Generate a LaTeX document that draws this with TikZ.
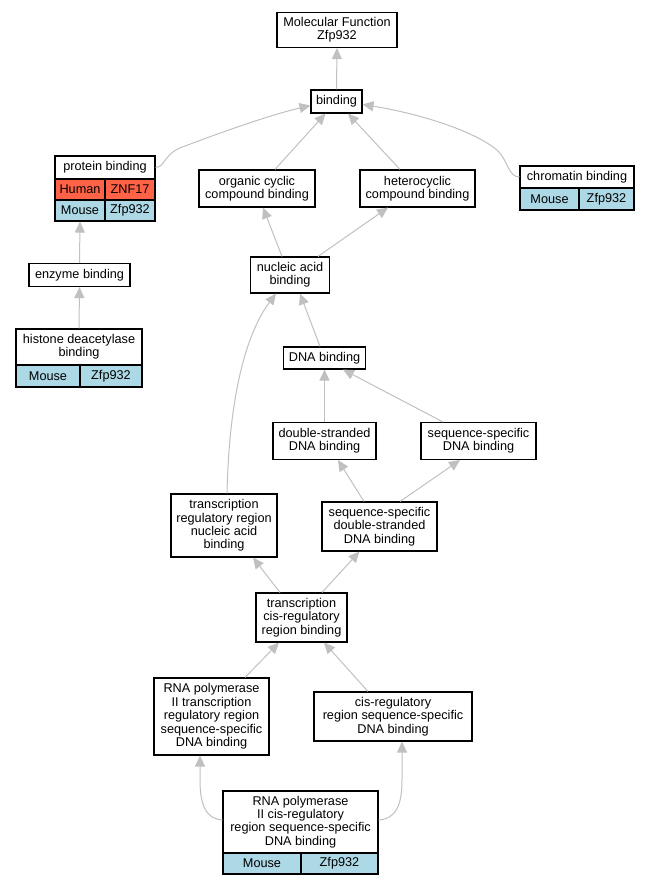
\documentclass[tikz,border=0pt]{standalone}
\usepackage{fontspec}
\setmainfont{Liberation Sans}
\usetikzlibrary{arrows.meta}
\definecolor{edgegray}{RGB}{192,192,192}
\definecolor{humanred}{RGB}{255,99,71}
\definecolor{mouseblue}{RGB}{173,216,230}
\tikzset{
  box/.style={draw=black, line width=1.1pt, fill=white, align=center, inner sep=0pt,
    font=\fontsize{12.7pt}{13.4pt}\selectfont},
  hcell/.style={box, fill=humanred},
  mcell/.style={box, fill=mouseblue},
  edge/.style={draw=edgegray, line width=1pt, -{Triangle[length=11pt,width=10pt]}},
}
\begin{document}
\begin{tikzpicture}[x=1pt,y=-1pt]
\useasboundingbox (0,0) rectangle (649,885);
% nodes
\node[box, minimum width=120pt, minimum height=35pt] (mf) at (337,30) {Molecular Function\\Zfp932};
\node[box, minimum width=51pt, minimum height=23pt] (bind) at (336.5,101.5) {binding};
% protein binding table
\node[box, minimum width=100pt, minimum height=23pt] (pb) at (105,167.5) {protein binding};
\node[hcell, minimum width=50pt, minimum height=21pt] (pbh1) at (80,189.5) {Human};
\node[hcell, minimum width=50pt, minimum height=21pt] (pbh2) at (130,189.5) {ZNF17};
\node[mcell, minimum width=50pt, minimum height=21pt] (pbm1) at (80,210.5) {Mouse};
\node[mcell, minimum width=50pt, minimum height=21pt] (pbm2) at (130,210.5) {Zfp932};
\node[box, minimum width=101pt, minimum height=23pt] (enz) at (79.5,275) {enzyme binding};
% histone table
\node[box, minimum width=126pt, minimum height=36pt] (hist) at (79,347) {histone deacetylase\\binding};
\node[mcell, minimum width=64pt, minimum height=22pt] (histm1) at (48,376) {Mouse};
\node[mcell, minimum width=62pt, minimum height=22pt] (histm2) at (111,376) {Zfp932};
% chromatin table
\node[box, minimum width=114pt, minimum height=22pt] (chrom) at (577,177) {chromatin binding};
\node[mcell, minimum width=59pt, minimum height=22pt] (chromm1) at (549.5,199) {Mouse};
\node[mcell, minimum width=55pt, minimum height=22pt] (chromm2) at (606.5,199) {Zfp932};
\node[box, minimum width=116pt, minimum height=37pt] (occ) at (257,188.5) {organic cyclic\\compound binding};
\node[box, minimum width=115pt, minimum height=37pt] (het) at (417.5,188.5) {heterocyclic\\compound binding};
\node[box, minimum width=79pt, minimum height=36pt] (nab) at (290,275) {nucleic acid\\binding};
\node[box, minimum width=82pt, minimum height=22pt] (dnab) at (324.5,358) {DNA binding};
\node[box, minimum width=103pt, minimum height=37pt] (dsb) at (324.5,441) {double-stranded\\DNA binding};
\node[box, minimum width=115pt, minimum height=37pt] (ssb) at (478.5,441) {sequence-specific\\DNA binding};
\node[box, minimum width=106pt, minimum height=63pt] (trrnab) at (224,525.5) {transcription\\regulatory region\\nucleic acid\\binding};
\node[box, minimum width=115pt, minimum height=49pt] (ssds) at (379.5,526.5) {sequence-specific\\double-stranded\\DNA binding};
\node[box, minimum width=91pt, minimum height=49pt] (tcrb) at (301.5,617.5) {transcription\\cis-regulatory\\region binding};
\node[box, minimum width=115pt, minimum height=77pt] (rtrr) at (211.5,716.5) {RNA polymerase\\II transcription\\regulatory region\\sequence-specific\\DNA binding};
\node[box, minimum width=158pt, minimum height=49pt] (crss) at (393,716.5) {cis-regulatory\\region sequence-specific\\DNA binding};
% RNA pol II cis table
\node[box, minimum width=155pt, minimum height=62pt] (rpc) at (300.5,822) {RNA polymerase\\II cis-regulatory\\region sequence-specific\\DNA binding};
\node[mcell, minimum width=78pt, minimum height=21pt] (rpcm1) at (262,863.5) {Mouse};
\node[mcell, minimum width=77pt, minimum height=21pt] (rpcm2) at (339.5,863.5) {Zfp932};
% edges
\draw[edge] (bind.north) -- (mf.south);
\draw[edge] (pb.east) .. controls (166,167) and (163,153) .. (185,146) .. controls (225,131) and (270,115) .. ([yshift=-4pt]bind.west);
\draw[edge] (chrom.west) .. controls (508,177) and (508,160) .. (497,150) .. controls (470,128) and (410,112) .. ([yshift=-3pt]bind.east);
\draw[edge] ([xshift=18pt]occ.north) -- ([xshift=-11pt]bind.south);
\draw[edge] ([xshift=-17.5pt]het.north) -- ([xshift=11.5pt]bind.south);
\draw[edge] ([xshift=-8pt]nab.north) -- ([xshift=6pt]occ.south);
\draw[edge] ([xshift=28pt]nab.north) -- ([xshift=-29.5pt]het.south);
\draw[edge] (enz.north) -- (pbm1.south);
\draw[edge] (hist.north) -- (enz.south);
\draw[edge] ([xshift=-4.5pt]dnab.north) -- ([xshift=10pt]nab.south);
\draw[edge] (dsb.north) -- (dnab.south);
\draw[edge] ([xshift=-35.5pt]ssb.north) -- ([xshift=18.5pt]dnab.south);
\draw[edge] ([xshift=-15.5pt]ssds.north) -- ([xshift=13.5pt]dsb.south);
\draw[edge] ([xshift=20.5pt]ssds.north) -- ([xshift=-18.5pt]ssb.south);
\draw[edge] ([xshift=3pt]trrnab.north) .. controls (229,400) and (245,335) .. ([xshift=-14pt]nab.south);
\draw[edge] ([xshift=-21.5pt]tcrb.north) -- ([xshift=29pt]trrnab.south);
\draw[edge] ([xshift=20.5pt]tcrb.north) -- ([xshift=-20pt]ssds.south);
\draw[edge] ([xshift=33.5pt]rtrr.north) -- ([xshift=-22.5pt]tcrb.south);
\draw[edge] ([xshift=-25pt]crss.north) -- ([xshift=22.5pt]tcrb.south);
\draw[edge] ([yshift=2pt]rpc.west) .. controls (206,819) and (200,805) .. (200,780) -- ([xshift=-11.5pt]rtrr.south);
\draw[edge] ([yshift=2pt]rpc.east) .. controls (396,819) and (402,805) .. (402,780) -- ([xshift=9pt]crss.south);
\end{tikzpicture}
\end{document}
